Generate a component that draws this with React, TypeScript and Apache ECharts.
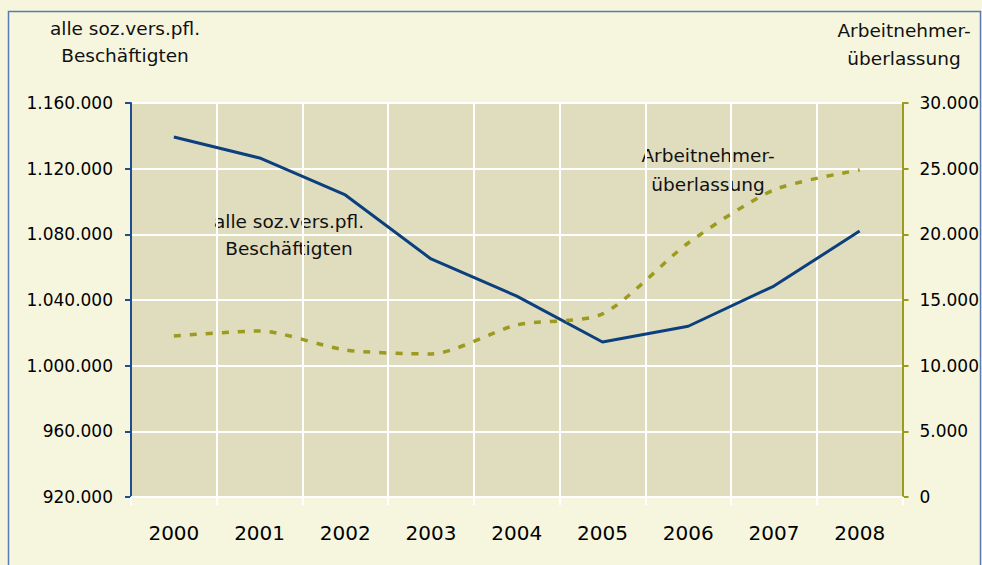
import React, { useEffect, useRef } from "react";
import * as echarts from "echarts";

const years = ["2000", "2001", "2002", "2003", "2004", "2005", "2006", "2007", "2008"];
const beschaeftigte = [1139300, 1126500, 1104000, 1065000, 1042400, 1014400, 1024000, 1048500, 1082000];
const arbeitnehmerueberlassung = [12260, 12640, 11200, 10890, 13100, 13940, 19340, 23380, 24900];

const fmt = (v: number) => String(Math.round(v)).replace(/\B(?=(\d{3})+(?!\d))/g, ".");

export default function App() {
  const ref = useRef<HTMLDivElement>(null);
  useEffect(() => {
    if (!ref.current) return;
    const chart = echarts.init(ref.current, undefined, { renderer: "svg" });
    const font = "DejaVu Sans, Verdana, sans-serif";
    chart.setOption({
      animation: false,
      backgroundColor: "#F6F6DF",
      textStyle: { fontFamily: font },
      grid: { left: 131, right: 76, top: 103, bottom: 68, show: true, backgroundColor: "#E0DCBE", borderWidth: 0 },
      xAxis: {
        type: "category",
        data: years,
        boundaryGap: true,
        axisLine: { show: true, lineStyle: { color: "#FFFFFF", width: 2 } },
        axisTick: { show: true, length: 8, lineStyle: { color: "#FFFFFF", width: 2 } },
        axisLabel: { color: "#000", fontSize: 20, margin: 26, fontFamily: font },
        splitLine: { show: true, lineStyle: { color: "#FFFFFF", width: 2 } },
      },
      yAxis: [
        {
          type: "value",
          min: 920000,
          max: 1160000,
          interval: 40000,
          axisLine: { show: true, lineStyle: { color: "#1F4E8C", width: 2 } },
          axisTick: { show: true, length: 6, lineStyle: { color: "#1F4E8C", width: 2 } },
          axisLabel: { color: "#000", fontSize: 17, margin: 18, formatter: (v: number) => fmt(v), fontFamily: font },
          splitLine: { show: true, lineStyle: { color: "#FFFFFF", width: 2 } },
        },
        {
          type: "value",
          min: 0,
          max: 30000,
          interval: 5000,
          position: "right",
          axisLine: { show: true, lineStyle: { color: "#9C9A1F", width: 2 } },
          axisTick: { show: true, length: 6, lineStyle: { color: "#9C9A1F", width: 2 } },
          axisLabel: { color: "#000", fontSize: 17, margin: 17, formatter: (v: number) => fmt(v), fontFamily: font },
          splitLine: { show: false },
        },
      ],
      series: [
        {
          type: "line",
          data: beschaeftigte,
          yAxisIndex: 0,
          symbol: "none",
          lineStyle: { color: "#0B3F7E", width: 3 },
        },
        {
          type: "line",
          data: arbeitnehmerueberlassung,
          yAxisIndex: 1,
          symbol: "none",
          smooth: 0.25,
          lineStyle: { color: "#9C9A1F", width: 3.5, type: [7, 9] },
        },
      ],
      graphic: [
        {
          type: "rect",
          shape: { x: 8.5, y: 11.5, width: 972, height: 560 },
          style: { fill: "none", stroke: "#5B7BB0", lineWidth: 1.5 },
          silent: true,
        },
        {
          type: "text",
          x: 125,
          y: 42,
          style: { text: "alle soz.vers.pfl.\nBeschäftigten", font: `18.5px ${font}`, fill: "#111", align: "center", verticalAlign: "middle", lineHeight: 27 },
        },
        {
          type: "text",
          x: 904,
          y: 44,
          style: { text: "Arbeitnehmer-\nüberlassung", font: `18.5px ${font}`, fill: "#111", align: "center", verticalAlign: "middle", lineHeight: 28 },
        },
        {
          type: "text",
          x: 289,
          y: 235,
          style: { text: "alle soz.vers.pfl.\nBeschäftigten", font: `18.5px ${font}`, fill: "#111", align: "center", verticalAlign: "middle", lineHeight: 27 },
        },
        {
          type: "text",
          x: 708,
          y: 170,
          style: { text: "Arbeitnehmer-\nüberlassung", font: `18.5px ${font}`, fill: "#111", align: "center", verticalAlign: "middle", lineHeight: 29 },
        },
      ],
    });
    return () => chart.dispose();
  }, []);
  return <div ref={ref} style={{ position: "absolute", left: 0, top: 0, width: 982, height: 565 }} />;
}
